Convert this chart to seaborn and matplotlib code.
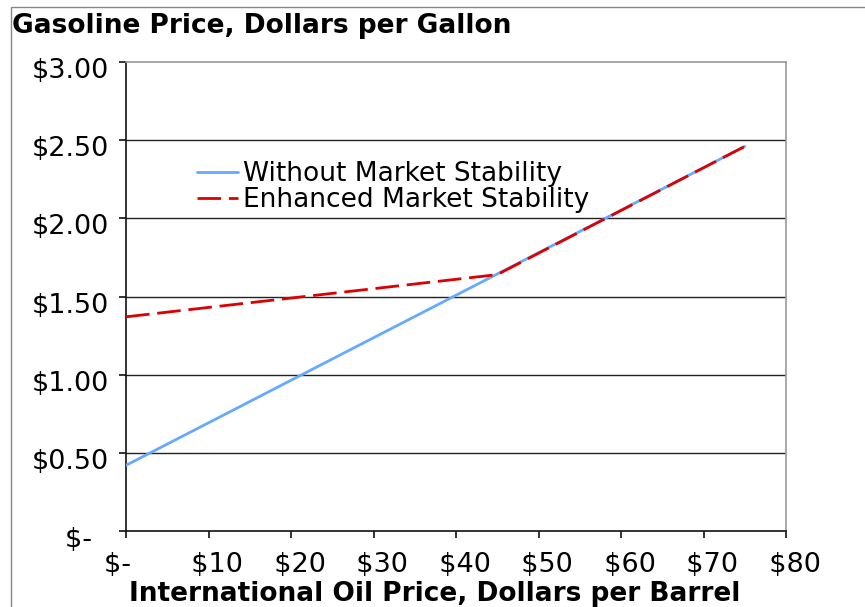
import matplotlib
matplotlib.use("Agg")
import matplotlib.pyplot as plt
from matplotlib.patches import Rectangle
from matplotlib.transforms import ScaledTranslation
import seaborn as sns
import pandas as pd

# Gasoline price response to international oil price
oil_without = [0, 75]
gas_without = [0.42, 2.46]
oil_enhanced = [0, 45, 75]
gas_enhanced = [1.37, 1.64, 2.46]

series_names = ["Without Market Stability", "Enhanced Market Stability"]
x_ticks = [0, 10, 20, 30, 40, 50, 60, 70, 80]
x_tick_labels = ["$-  ", "  $10", "  $20", "  $30", "  $40", "  $50", "  $60", "  $70", "  $80"]
y_ticks = [0, 0.5, 1.0, 1.5, 2.0, 2.5, 3.0]
y_tick_labels = ["$-  ", "$0.50", "$1.00", "$1.50", "$2.00", "$2.50", "$3.00"]

sns.set_theme(style="white")
plt.rcParams["font.family"] = ["DejaVu Sans"]
plt.rcParams["text.color"] = "black"
plt.rcParams["xtick.color"] = "black"
plt.rcParams["ytick.color"] = "black"

df_without = pd.DataFrame({"oil": oil_without, "gas": gas_without})
df_enhanced = pd.DataFrame({"oil": oil_enhanced, "gas": gas_enhanced})

fig = plt.figure(figsize=(8.65, 6.07), dpi=100)
ax = fig.add_axes([126 / 865, 1 - 531 / 607, 660 / 865, 469 / 607])

sns.lineplot(data=df_without, x="oil", y="gas", ax=ax, color="#66AAFF",
             linewidth=2.0, label=series_names[0], zorder=3)
sns.lineplot(data=df_enhanced, x="oil", y="gas", ax=ax, color="#DD0000",
             linewidth=2.0, label=series_names[1], zorder=4)
ax.lines[1].set_dashes((8.5, 2.8))

ax.set_xlim(0, 80)
ax.set_ylim(0, 3.0)
ax.set_xticks(x_ticks)
ax.set_xticklabels(x_tick_labels)
ax.set_yticks(y_ticks)
ax.set_yticklabels(y_tick_labels)
ax.set_xlabel("")
ax.set_ylabel("")

for y in y_ticks[1:-1]:
    ax.axhline(y, color="#222222", linewidth=1.0, zorder=1)

for side in ("left", "bottom"):
    ax.spines[side].set_color("#111111")
    ax.spines[side].set_linewidth(1.2)
for side in ("top", "right"):
    ax.spines[side].set_color("#999999")
    ax.spines[side].set_linewidth(1.2)

ax.tick_params(axis="both", which="major", direction="out", length=5,
               width=1.2, color="#111111", labelsize=19.5, labelcolor="black",
               left=True, bottom=True)
ax.tick_params(axis="y", pad=7)
ax.tick_params(axis="x", pad=10)

# nudge the value labels slightly downward
shift_down = ScaledTranslation(0, -6 / 100, fig.dpi_scale_trans)
for lbl in ax.get_yticklabels():
    lbl.set_transform(lbl.get_transform() + shift_down)

leg = ax.legend(loc="upper left", bbox_to_anchor=(197 / 865, 1 - 161 / 607),
                bbox_transform=fig.transFigure, frameon=False, fontsize=19,
                handlelength=1.55, handletextpad=0.2, labelspacing=0.0,
                borderpad=0, borderaxespad=0)

fig.text(12 / 865, 1 - 33 / 607, "Gasoline Price, Dollars per Gallon",
         fontsize=19, fontweight="bold", ha="left", va="baseline")
fig.text(435 / 865, 1 - 601 / 607, "International Oil Price, Dollars per Barrel",
         fontsize=19, fontweight="bold", ha="center", va="baseline")

fig.patches.append(Rectangle((11 / 865, -0.05), 1.2, 1.05 - 7.5 / 607,
                             transform=fig.transFigure, fill=False,
                             edgecolor="#888888", linewidth=1.0))

fig.savefig("out.png", dpi=100)
